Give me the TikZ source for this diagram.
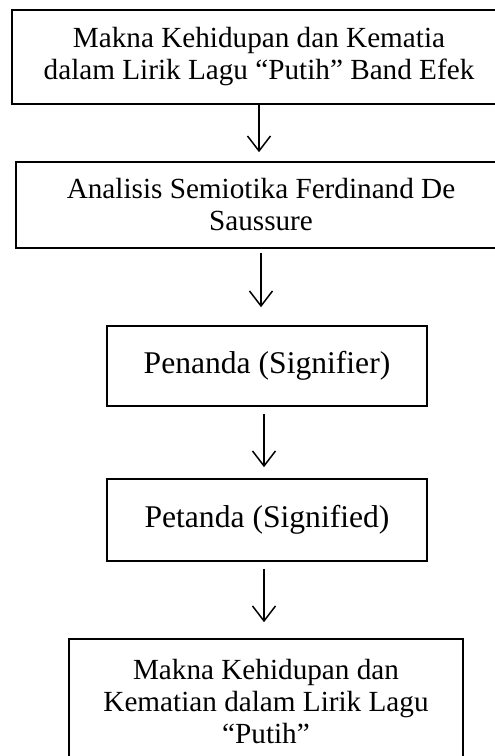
\documentclass[tikz,border=0pt]{standalone}
\usepackage{fontspec}
\setmainfont{Liberation Serif}
\usetikzlibrary{arrows.meta}
\begin{document}
\begin{tikzpicture}[x=1pt, y=-1pt,
  box/.style={draw, line width=1.6pt, align=center, inner sep=0pt, font=\fontsize{29.2}{32}\selectfont},
  bigbox/.style={box, font=\fontsize{31.6}{35}\selectfont},
  flow/.style={line width=1.5pt, -{Straight Barb[length=15pt, width=23pt]}}]
\useasboundingbox (0,0) rectangle (495,756);

\node[box, minimum width=494pt, minimum height=94pt] (judul) at (259,57) {Makna Kehidupan dan Kematia\\dalam Lirik Lagu “Putih” Band Efek};
\node[box, minimum width=490pt, minimum height=86pt] (analisis) at (261,205) {Analisis Semiotika Ferdinand De\\Saussure};
\node[bigbox, minimum width=320pt, minimum height=80pt] (penanda) at (267,366) {Penanda (Signifier)};
\node[bigbox, minimum width=320pt, minimum height=82pt] (petanda) at (267,520) {Petanda (Signified)};
\node[box, minimum width=394pt, minimum height=126pt] (makna) at (266,702) {Makna Kehidupan dan\\Kematian dalam Lirik Lagu\\“Putih”};

\draw[flow, shorten >=9pt] (judul.south) -- (judul.south |- analisis.north);
\draw[flow, shorten <=4pt, shorten >=18pt] (analisis.south) -- (analisis.south |- penanda.north);
\draw[flow, shorten <=7pt, shorten >=11pt] ([xshift=-3pt]penanda.south) -- ([xshift=-3pt]petanda.north);
\draw[flow, shorten <=7pt, shorten >=16pt] ([xshift=-3pt]petanda.south) -- ([xshift=-3pt]petanda.south |- makna.north);
\end{tikzpicture}
\end{document}
